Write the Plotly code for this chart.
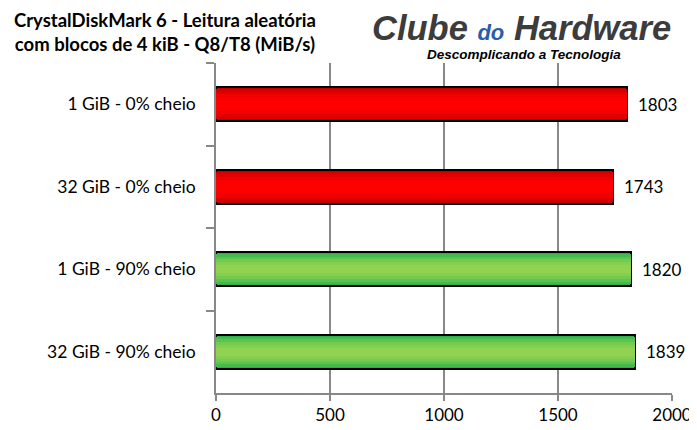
import plotly.graph_objects as go

categories = ["1 GiB - 0% cheio", "32 GiB - 0% cheio", "1 GiB - 90% cheio", "32 GiB - 90% cheio"]
values = [1803, 1743, 1820, 1839]
groups = ["red", "red", "green", "green"]
x_ticks = [0, 500, 1000, 1500, 2000]

# gradient palettes (edge -> center)
palettes = {
    "red": ["#C00000", "#D20000", "#E20000", "#F00000", "#FA0000", "#FF0000"],
    "green": ["#2EAE48", "#45B94B", "#5CC34D", "#72CA4F", "#84CF50", "#92D251"],
}
widths = [0.41, 0.36, 0.30, 0.24, 0.17, 0.10]

fig = go.Figure()
for i, w in enumerate(widths):
    colors = [palettes[g][i] for g in groups]
    fig.add_trace(go.Bar(
        x=values, y=categories, orientation="h", width=w,
        marker=dict(color=colors,
                    line=dict(color="black", width=2 if i == 0 else 0)),
        hoverinfo="skip" if i else "x+y", showlegend=False,
    ))

for c, v in zip(categories, values):
    fig.add_annotation(x=v, y=c, text=str(v), showarrow=False, xanchor="left",
                       xshift=9, font=dict(family="Lato", size=17, color="black"))

fig.add_annotation(xref="paper", yref="paper", x=-0.112, y=1.0, yshift=56,
                   text="<b>CrystalDiskMark 6 - Leitura aleatória<br>com blocos de 4 kiB - Q8/T8 (MiB/s)</b>",
                   showarrow=False, xanchor="center", yanchor="top", align="center",
                   font=dict(family="Lato", size=18.5, color="black"))

fig.add_annotation(xref="paper", yref="paper", x=0.67, xanchor="center", y=1.0, yshift=35,
                   yanchor="middle",
                   text="<b><i>Clube <span style='color:#2A5CAA;font-size:22px'>do</span> Hardware</i></b>",
                   showarrow=False, font=dict(family="Liberation Sans", size=34.5, color="#3C3C3C"))
fig.add_annotation(xref="paper", yref="paper", x=0.676, xanchor="center", y=1.0, yshift=9,
                   yanchor="middle",
                   text="<b><i>Descomplicando a Tecnologia</i></b>",
                   showarrow=False, font=dict(family="Liberation Sans", size=13.5, color="black"))

# page has an 8px body margin, so the figure is 8px smaller than the window
fig.update_layout(
    width=689, height=422,
    margin=dict(l=208, r=25, t=55, b=37, autoexpand=False),
    barmode="overlay", bargap=0,
    plot_bgcolor="white", paper_bgcolor="white",
    font=dict(family="Lato", size=17, color="black"),
)
fig.update_xaxes(range=[0, 2000], tickvals=x_ticks, showgrid=True, gridcolor="#888888",
                 gridwidth=1.5, showline=True, linecolor="#888888", linewidth=1.5,
                 ticks="outside", ticklen=6, tickcolor="#888888", tickwidth=1.5,
                 zeroline=False, tickfont=dict(size=17), automargin=False)
fig.update_yaxes(type="category", categoryorder="array", categoryarray=categories,
                 autorange="reversed", showline=True, linecolor="#888888", linewidth=1.5,
                 ticks="outside", ticklen=8, tickcolor="#888888", tickwidth=1.5,
                 tickson="boundaries", showgrid=False, tickfont=dict(size=17.5),
                 ticklabelstandoff=15, automargin=False)

fig.write_html("out.html")
